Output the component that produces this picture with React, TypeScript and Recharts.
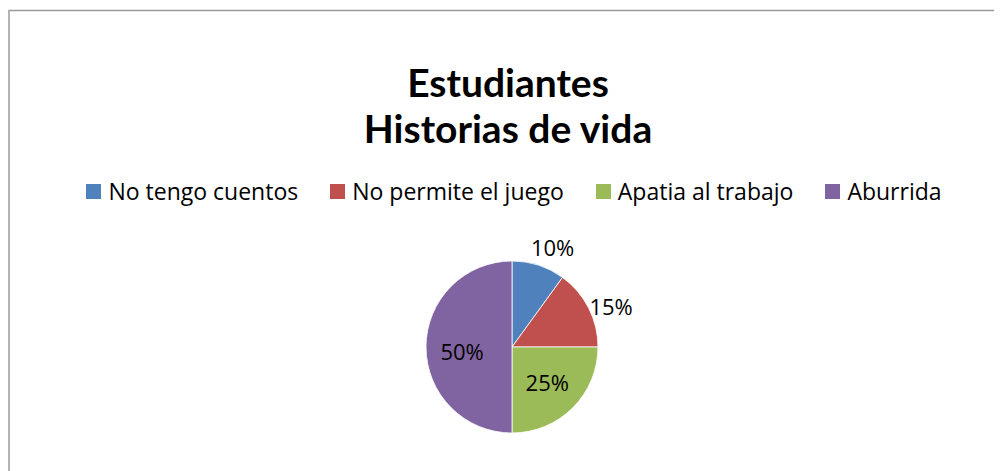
import { Legend, Pie, PieChart, Cell } from "recharts";

const categories = ["No tengo cuentos", "No permite el juego", "Apatia al trabajo", "Aburrida"];
const shares = [10, 15, 25, 50];
const colors = ["#4f81bd", "#c0504d", "#9bbb59", "#8064a2"];
const titleLines = ["Estudiantes", "Historias de vida"];

const data = categories.map((name, i) => ({ name, value: shares[i] }));

const RADIAN = Math.PI / 180;
const TITLE_FONT = "Lato, 'Open Sans', sans-serif";
const FONT = "'Open Sans', 'Noto Sans', sans-serif";

const renderLabel = (props: any) => {
  const { cx, cy, midAngle, outerRadius, percent } = props;
  let x: number;
  let y: number;
  if (percent >= 0.2) {
    const cos = Math.cos(-midAngle * RADIAN);
    const sin = Math.sin(-midAngle * RADIAN);
    const r = outerRadius * 0.58;
    x = cx + r * cos;
    y = cy + r * sin + (Math.abs(cos) > 0.9 ? 4 : 0);
  } else {
    // outside label, nudged a bit clockwise like Excel's best fit
    const a = (midAngle - 5) * RADIAN;
    const r = outerRadius + 23;
    x = cx + r * Math.cos(a) - 2;
    y = cy - r * Math.sin(a);
  }
  return (
    <text x={x} y={y} fill="#000" fontSize={22} fontFamily={FONT} textAnchor="middle" dominantBaseline="central">
      {`${Math.round(percent * 100)}%`}
    </text>
  );
};

const LegendRow = () => (
  <div
    style={{
      display: "flex",
      justifyContent: "center",
      gap: 32,
      fontFamily: FONT,
      fontSize: 23,
      color: "#000",
      lineHeight: "24px",
    }}
  >
    {categories.map((c, i) => (
      <div key={c} style={{ display: "flex", alignItems: "center" }}>
        <span style={{ width: 15, height: 15, background: colors[i], marginRight: 7, display: "inline-block" }} />
        <span>{c}</span>
      </div>
    ))}
  </div>
);

export default function App() {
  return (
    <PieChart width={994} height={463} margin={{ top: 0, right: 0, bottom: 0, left: 0 }}>
      <rect x={1} y={2.5} width={1200} height={800} fill="none" stroke="#9a9a9a" strokeWidth={1.5} />
      <text x={500} y={89} textAnchor="middle" fontFamily={TITLE_FONT} fontWeight={700} fontSize={39} fill="#000">
        {titleLines[0]}
      </text>
      <text x={500} y={135} textAnchor="middle" fontFamily={TITLE_FONT} fontWeight={700} fontSize={39} fill="#000">
        {titleLines[1]}
      </text>
      <Legend
        content={<LegendRow />}
        wrapperStyle={{ top: 171, left: 9, width: 994 }}
      />
      <Pie
        data={data}
        dataKey="value"
        nameKey="name"
        cx={504}
        cy={339}
        outerRadius={86}
        startAngle={90}
        endAngle={-270}
        stroke="#ffffff"
        strokeWidth={0.8}
        label={renderLabel}
        labelLine={false}
        isAnimationActive={false}
      >
        {data.map((d, i) => (
          <Cell key={d.name} fill={colors[i]} />
        ))}
      </Pie>
    </PieChart>
  );
}
